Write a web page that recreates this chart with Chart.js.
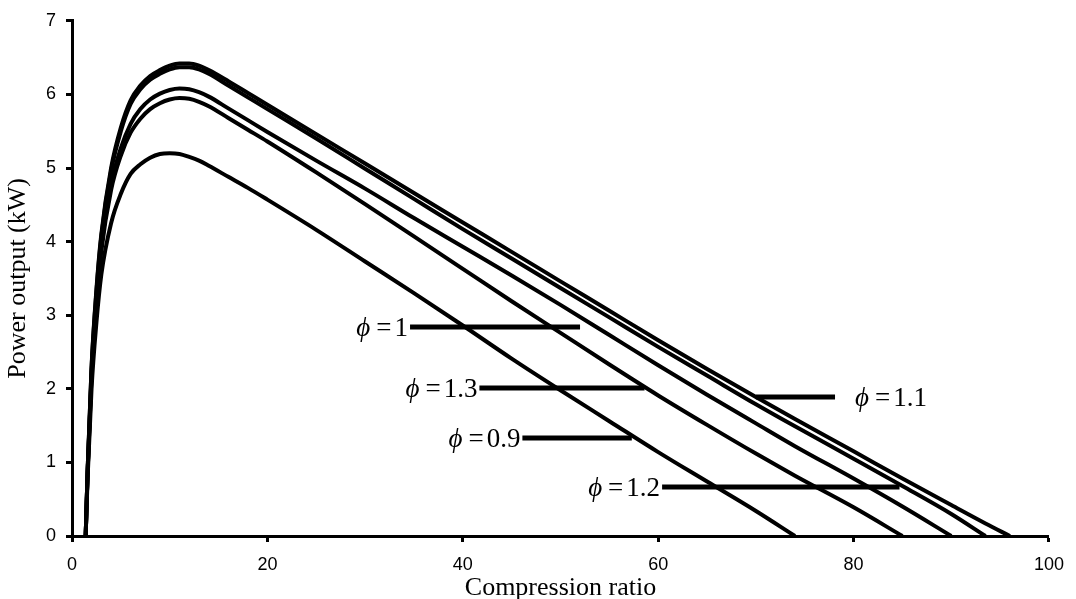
<!DOCTYPE html>
<html>
<head>
<meta charset="utf-8">
<script src="https://cdn.jsdelivr.net/npm/chart.js@4.4.0/dist/chart.umd.min.js"></script>
<style>
  html, body { margin: 0; padding: 0; background: #fff; }
  #wrap { width: 1076px; height: 599px; position: relative; }
</style>
</head>
<body>
<div id="wrap"><canvas id="grafico-potencia"></canvas></div>
<script>
// Compression ratio (x) shared by all curves
const ratio = [1.4, 1.6, 2, 2.5, 3, 4, 5, 6, 7, 8, 9, 10, 11, 12, 13, 14, 16, 18, 20, 25, 30, 35, 40, 45, 50, 55, 60, 65, 70, 74, 80, 85, 90, 93.5, 96];

// Power output (kW) for each equivalence ratio, null after the curve reaches zero
const power11 = [0, 0.9, 2.3, 3.35, 4.1, 5.0, 5.55, 5.92, 6.12, 6.25, 6.33, 6.39, 6.42, 6.42, 6.39, 6.33, 6.18, 6.02, 5.86, 5.46, 5.06, 4.66, 4.26, 3.86, 3.46, 3.06, 2.66, 2.27, 1.89, 1.59, 1.15, 0.78, 0.42, 0.17, 0];
const power12 = [0, 0.9, 2.28, 3.32, 4.07, 4.96, 5.5, 5.87, 6.07, 6.2, 6.28, 6.34, 6.37, 6.37, 6.34, 6.28, 6.12, 5.96, 5.8, 5.4, 4.99, 4.58, 4.17, 3.77, 3.37, 2.97, 2.57, 2.18, 1.79, 1.49, 1.05, 0.68, 0.3, 0, null];
const power10 = [0, 0.88, 2.2, 3.2, 3.93, 4.78, 5.27, 5.6, 5.8, 5.93, 6.01, 6.06, 6.08, 6.07, 6.03, 5.97, 5.81, 5.65, 5.49, 5.1, 4.72, 4.32, 3.93, 3.54, 3.14, 2.73, 2.32, 1.92, 1.53, 1.22, 0.78, 0.4, 0, null, null];
const power13 = [0, 0.87, 2.17, 3.15, 3.87, 4.7, 5.17, 5.48, 5.67, 5.8, 5.88, 5.93, 5.95, 5.94, 5.9, 5.84, 5.68, 5.52, 5.36, 4.94, 4.51, 4.07, 3.63, 3.19, 2.76, 2.33, 1.91, 1.51, 1.12, 0.82, 0.39, 0, null, null, null];
const power09 = [0, 0.8, 2.0, 2.9, 3.55, 4.25, 4.65, 4.92, 5.05, 5.14, 5.19, 5.2, 5.19, 5.15, 5.1, 5.03, 4.88, 4.73, 4.57, 4.16, 3.73, 3.3, 2.86, 2.41, 1.98, 1.56, 1.14, 0.74, 0.34, 0, null, null, null, null, null];

// Labels with their leader lines (data coordinates)
const phiText = ['1', '1.3', '0.9', '1.2', '1.1'];
const leaderY = [2.84, 2.01, 1.33, 0.665, 1.89];
const leaderFrom = [34.6, 41.7, 46.1, 60.4, 70.0];
const leaderTo = [52.0, 58.6, 57.3, 84.7, 78.1];
const labelSide = ['left', 'left', 'left', 'left', 'right'];

function pontos(valores) {
    return ratio.map((x, i) => ({ x: x, y: valores[i] })).filter(p => p.y !== null);
}

function curva(label, valores) {
    return {
        label: label,
        data: pontos(valores),
        borderColor: '#000',
        borderWidth: 4,
        pointRadius: 0,
        fill: false,
        cubicInterpolationMode: 'monotone'
    };
}

let datasets = [
    curva('φ=1.1', power11),
    curva('φ=1.2', power12),
    curva('φ=1', power10),
    curva('φ=1.3', power13),
    curva('φ=0.9', power09)
];

// leader lines
phiText.forEach((t, i) => {
    datasets.push({
        label: 'leader ' + t,
        data: [{ x: leaderFrom[i], y: leaderY[i] }, { x: leaderTo[i], y: leaderY[i] }],
        borderColor: '#000',
        borderWidth: 5,
        pointRadius: 0,
        fill: false
    });
});

// Plugin that writes the phi labels next to the leader lines
const rotulosPhi = {
    id: 'rotulosPhi',
    afterDatasetsDraw(chart) {
        const ctx = chart.ctx;
        const sx = chart.scales.x;
        const sy = chart.scales.y;
        const size = 27;
        const fItalic = 'italic ' + size + 'px "Liberation Serif"';
        const fNormal = size + 'px "Liberation Serif"';
        ctx.save();
        ctx.fillStyle = '#000';
        ctx.textBaseline = 'alphabetic';
        phiText.forEach((t, i) => {
            ctx.font = fItalic;
            const wPhi = ctx.measureText('ϕ').width;
            ctx.font = fNormal;
            const wEq = ctx.measureText('=').width;
            const wNum = ctx.measureText(t).width;
            const total = wPhi + 6 + wEq + 3 + wNum;
            const y = sy.getPixelForValue(leaderY[i]) + size * 0.33;
            let x0;
            if (labelSide[i] === 'left') {
                x0 = sx.getPixelForValue(leaderFrom[i]) - 2 - total;
            } else {
                x0 = sx.getPixelForValue(leaderTo[i]) + 20;
            }
            ctx.font = fItalic;
            ctx.fillText('ϕ', x0, y);
            ctx.font = fNormal;
            ctx.fillText('=', x0 + wPhi + 6, y);
            ctx.fillText(t, x0 + wPhi + 6 + wEq + 3, y);
        });
        ctx.restore();
    }
};

let graficoPotencia = new Chart(
    document.getElementById('grafico-potencia'),
    {
        type: 'line',
        data: { datasets: datasets },
        options: {
            responsive: true,
            maintainAspectRatio: false,
            animation: false,
            layout: {
                padding: { top: 20, right: 18, left: 0, bottom: 0 }
            },
            plugins: {
                legend: { display: false },
                tooltip: { enabled: false }
            },
            scales: {
                x: {
                    type: 'linear',
                    min: 0,
                    max: 100,
                    afterFit(scale) { scale.height = 63; },
                    ticks: {
                        stepSize: 20,
                        color: '#000',
                        padding: 12,
                        maxRotation: 0,
                        font: { family: '"Liberation Sans"', size: 18 }
                    },
                    grid: {
                        drawOnChartArea: false,
                        tickLength: 6,
                        tickWidth: 3,
                        tickColor: '#000'
                    },
                    border: { color: '#000', width: 3 },
                    title: {
                        display: true,
                        text: 'Compression ratio',
                        color: '#000',
                        padding: { top: 0, bottom: 0 },
                        font: { family: '"Liberation Serif"', size: 26, lineHeight: 0.8 }
                    }
                },
                y: {
                    min: 0,
                    max: 7,
                    afterFit(scale) { scale.width = 72; },
                    ticks: {
                        stepSize: 1,
                        color: '#000',
                        padding: 10,
                        font: { family: '"Liberation Sans"', size: 18 }
                    },
                    grid: {
                        drawOnChartArea: false,
                        tickLength: 6,
                        tickWidth: 3,
                        tickColor: '#000'
                    },
                    border: { color: '#000', width: 3 },
                    title: {
                        display: true,
                        text: 'Power output (kW)',
                        color: '#000',
                        padding: { top: 5, bottom: 0 },
                        font: { family: '"Liberation Serif"', size: 26, lineHeight: 1 }
                    }
                }
            }
        },
        plugins: [rotulosPhi]
    }
);
</script>
</body>
</html>
